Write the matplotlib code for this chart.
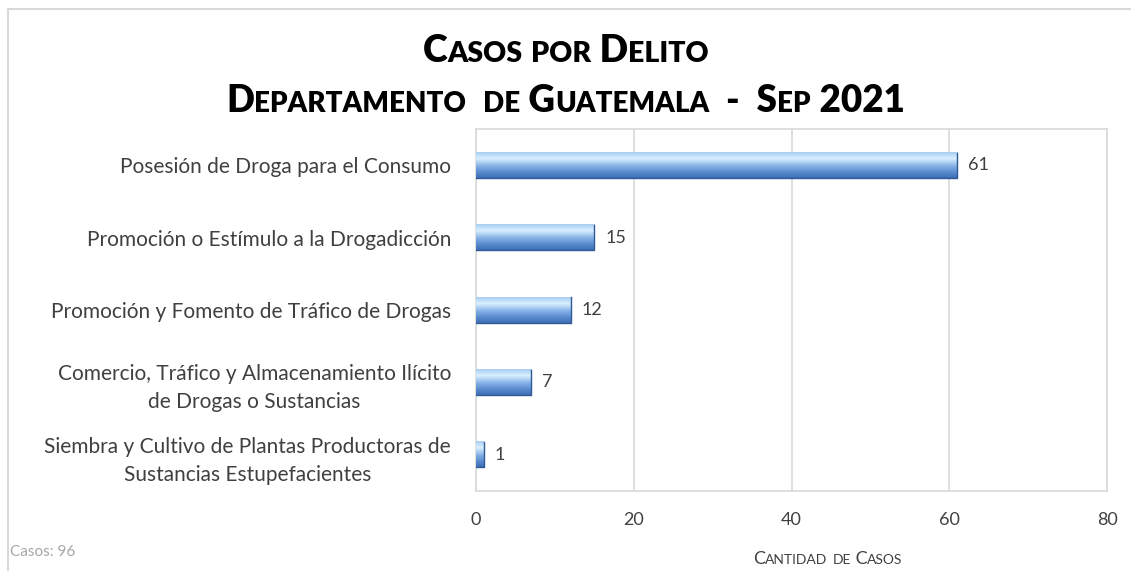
import numpy as np
import matplotlib
matplotlib.use('Agg')
import matplotlib.pyplot as plt
from matplotlib.lines import Line2D
from matplotlib.colors import LinearSegmentedColormap

# data
categorias = ['Posesión de Droga para el Consumo',
              'Promoción o Estímulo a la Drogadicción',
              'Promoción y Fomento de Tráfico de Drogas',
              'Comercio, Tráfico y Almacenamiento Ilícito\nde Drogas o Sustancias',
              'Siembra y Cultivo de Plantas Productoras de\nSustancias Estupefacientes']
casos = [61, 15, 12, 7, 1]
xticks = [0, 20, 40, 60, 80]
total = 96

plt.rcParams['font.family'] = ['Lato', 'DejaVu Sans']

W, H = 1131, 571
fig = plt.figure(figsize=(W / 100, H / 100), dpi=100)
ax = fig.add_axes([476 / W, 1 - 491 / H, (1107 - 476) / W, (491 - 129) / H])

# gradient for bars (top light -> bottom dark)
cmap = LinearSegmentedColormap.from_list('bar', ['#a9cdf3', '#d9f0ff', '#8fb8ea', '#5e8fd3', '#3e6fb4'])
grad = np.linspace(0, 1, 64).reshape(-1, 1)

ypos = np.arange(len(casos))
h = 0.35
for y, v in zip(ypos, casos):
    ax.imshow(grad, cmap=cmap, aspect='auto', extent=(0, v, y + h / 2, y - h / 2),
              zorder=3, interpolation='bicubic')
    ax.plot([0, v, v], [y + h / 2, y + h / 2, y - h / 2], color='#2f5a96', lw=1.0, zorder=4)
    ax.text(v + 1.4, y, str(v), va='center', ha='left', fontsize=13, color='#404040')

ax.set_xlim(0, 80)
ax.set_ylim(4.5, -0.5)
ax.set_xticks(xticks)
ax.set_xticklabels([str(t) for t in xticks], fontsize=13, color='#404040')
ax.set_yticks(ypos)
ax.set_yticklabels(categorias, fontsize=15, color='#404040', multialignment='center',
                   linespacing=1.5)
ax.tick_params(length=0, pad=18, axis='y')
ax.tick_params(length=0, pad=15, axis='x')
ax.grid(axis='x', color='#d9d9d9', lw=1.2, zorder=0)
for s in ax.spines.values():
    s.set_color('#d9d9d9')
    s.set_linewidth(1.2)

def small_caps(x, y, text, big, small, **kw):
    # draw a small caps string centred at (x, y) in figure coords
    pieces = []
    cur = ''
    cur_up = None
    for ch in text:
        up = not ch.islower()
        if cur_up is None or up == cur_up:
            cur += ch
        else:
            pieces.append((cur, cur_up))
            cur = ch
        cur_up = up
    pieces.append((cur, cur_up))
    r = fig.canvas.get_renderer()
    objs = []
    for s, up in pieces:
        t = fig.text(0, y, s if up else s.upper(), fontsize=big if up else small,
                     ha='left', va='baseline', **kw)
        objs.append(t)
    widths = [t.get_window_extent(r).width / W for t in objs]
    start = x - sum(widths) / 2
    for t, w in zip(objs, widths):
        t.set_x(start)
        start += w

small_caps(0.5, 1 - 62 / H, 'Casos por Delito', 27, 20.5, fontweight='heavy', color='black')
small_caps(0.5, 1 - 112 / H, 'Departamento  de Guatemala  -  Sep 2021', 26.5, 20, fontweight='heavy', color='black')
small_caps(828 / W, 1 - 564 / H, 'Cantidad de Casos', 13, 10, color='#404040')
fig.text(10 / W, 1 - 552 / H, 'Casos: %d' % total, fontsize=11, color='#a6a6a6', va='center')

# outer frame
fig.add_artist(Line2D([8 / W, 8 / W], [0, 1 - 9 / H], color='#d9d9d9', lw=1.5))
fig.add_artist(Line2D([8 / W, 1], [1 - 9 / H, 1 - 9 / H], color='#d9d9d9', lw=1.5))

fig.savefig('out.png', dpi=100)
